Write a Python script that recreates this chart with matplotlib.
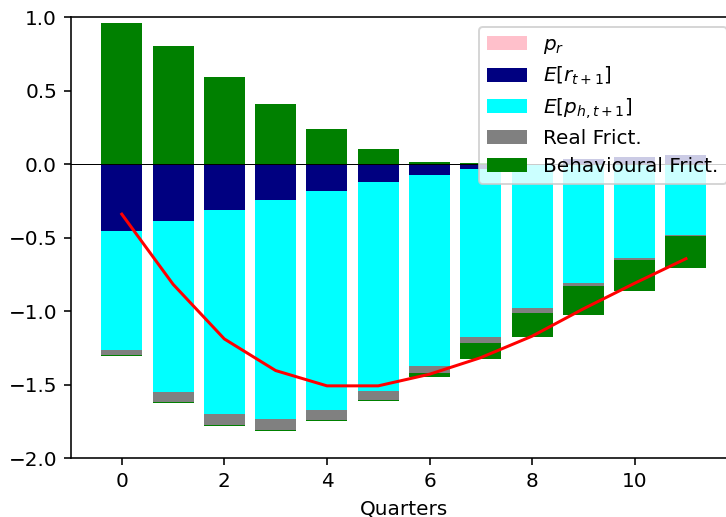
import matplotlib
matplotlib.use('Agg')
import matplotlib.pyplot as plt
import numpy as np

# --- data ---
quarters = np.arange(12)
p_r = [0.0, 0.004, 0.004, 0.004, 0.004, 0.004, 0.004, 0.003, 0.0, 0.0, 0.0, 0.0]
exp_r = [-0.453, -0.385, -0.310, -0.242, -0.180, -0.119, -0.071, -0.031, 0.003, 0.039, 0.050, 0.061]
exp_ph = [-0.810, -1.164, -1.388, -1.491, -1.491, -1.423, -1.301, -1.143, -0.977, -0.807, -0.636, -0.482]
real_frict = [-0.034, -0.068, -0.078, -0.074, -0.070, -0.063, -0.047, -0.039, -0.034, -0.018, -0.014, -0.007]
behav_frict_a = [0.963, 0.802, 0.589, 0.405, 0.235, 0.099, 0.012, 0.006, 0.0, 0.0, 0.0, 0.0]
behav_frict_b = [-0.005, -0.005, -0.005, -0.005, -0.005, -0.005, -0.025, -0.111, -0.161, -0.197, -0.209, -0.214]

series = [
    (p_r, 'pink', '$p_r$'),
    (exp_r, 'navy', '$E[r_{t+1}]$'),
    (exp_ph, 'cyan', '$E[p_{h,t+1}]$'),
    (real_frict, 'gray', 'Real Frict.'),
    (behav_frict_a, 'green', 'Behavioural Frict.'),
    (behav_frict_b, 'green', None),
]

fig = plt.figure(figsize=(726 / 144, 517 / 144), dpi=144)
ax = fig.add_axes([0.0978, 0.1135, 0.917, 0.853])

# positives stack up from zero, negatives stack down
pos_bottom = np.zeros(len(quarters))
neg_bottom = np.zeros(len(quarters))
for vals, col, lab in series:
    v = np.asarray(vals)
    bottom = np.where(v >= 0, pos_bottom, neg_bottom)
    ax.bar(quarters, v, bottom=bottom, color=col, label=lab)
    pos_bottom += np.clip(v, 0, None)
    neg_bottom += np.clip(v, None, 0)

total = pos_bottom + neg_bottom
ax.plot(quarters, total, color='red')
ax.axhline(0, color='black', linewidth=0.5)

ax.set_ylim(-2.0, 1.0)
ax.set_xlabel('Quarters')
ax.legend(loc='upper right', labelspacing=0.43)

fig.savefig('out.png', dpi=144)
